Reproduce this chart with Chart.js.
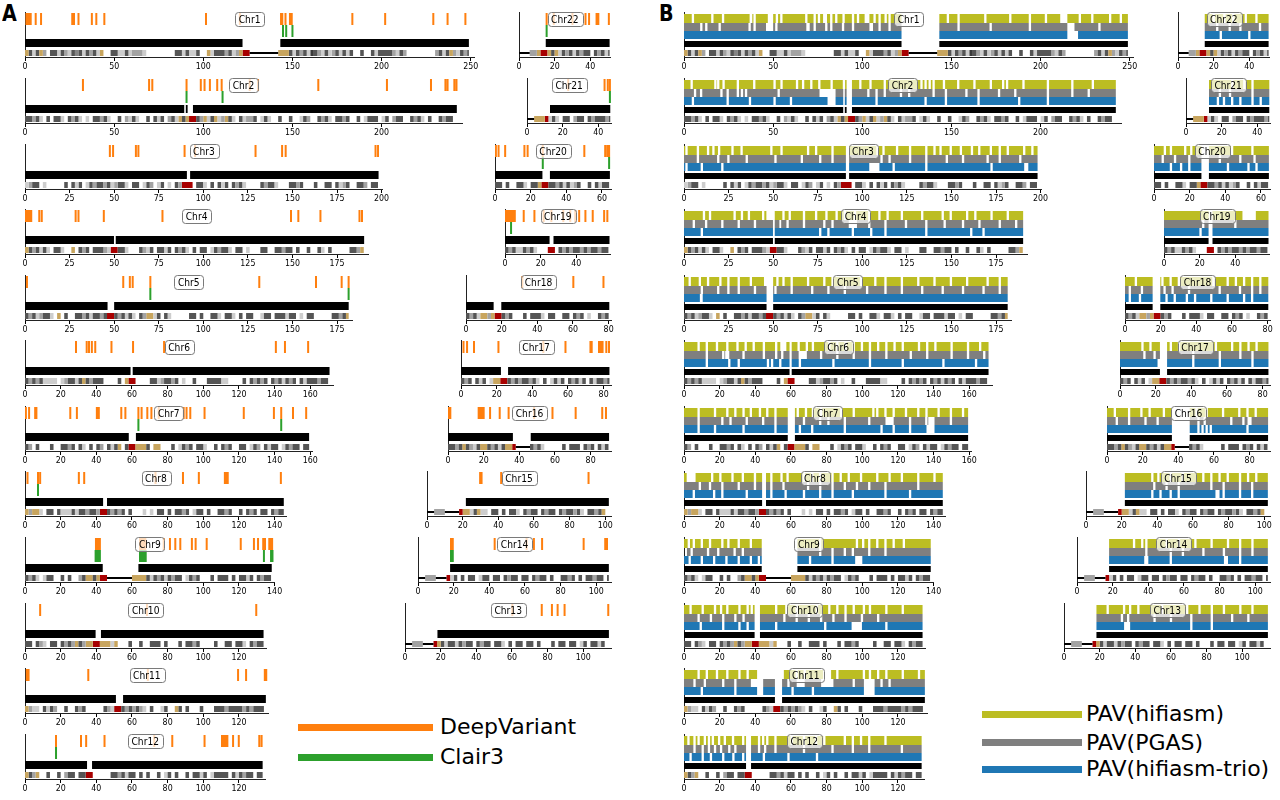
<!DOCTYPE html>
<html>
<head>
<meta charset="utf-8">
<script src="https://cdn.jsdelivr.net/npm/chart.js@4.4.1/dist/chart.umd.min.js"></script>
<style>
  html, body { margin: 0; padding: 0; background: #fff; }
  #page { position: relative; width: 1280px; height: 800px; overflow: hidden; font-family: 'DejaVu Sans', sans-serif; }
  .plot { position: absolute; }
  .panel-tag { position: absolute; font: bold 23px 'DejaVu Sans', sans-serif; line-height: 23px; transform: scaleX(0.83); transform-origin: left top; }
  .legend-line { position: absolute; height: 7px; }
  .legend-text { position: absolute; font: 22px 'DejaVu Sans', sans-serif; line-height: 26px; height: 26px; white-space: nowrap; color: #000; }
</style>
</head>
<body>
<div id="page">
  <div class="panel-tag" style="left:2px;top:2px">A</div>
  <div class="panel-tag" style="left:659px;top:2px">B</div>
</div>
<script>
// ---- data ----
const CHROMOSOMES = ['Chr1','Chr2','Chr3','Chr4','Chr5','Chr6','Chr7','Chr8','Chr9','Chr10','Chr11',
  'Chr12','Chr13','Chr14','Chr15','Chr16','Chr17','Chr18','Chr19','Chr20','Chr21','Chr22'];
const CHR_LEN = [248.96, 242.19, 198.3, 190.21, 181.54, 170.81, 159.35, 145.14, 138.39, 133.8, 135.09,
  133.28, 114.36, 107.04, 101.99, 90.34, 83.26, 80.37, 58.62, 64.44, 46.71, 50.82];
const TICK_STEP = [50, 50, 25, 25, 25, 20, 20, 20, 20, 20, 20, 20, 20, 20, 20, 20, 20, 20, 20, 20, 20, 20];

const LEFT_COLUMN = ['Chr1','Chr2','Chr3','Chr4','Chr5','Chr6','Chr7','Chr8','Chr9','Chr10','Chr11','Chr12'];
const RIGHT_COLUMN = ['Chr22','Chr21','Chr20','Chr19','Chr18','Chr17','Chr16','Chr15','Chr14','Chr13'];

// assembled contig spans (Mb)
const ASM_SEGMENTS = {
  Chr1: [[0,122],[143.2,248.96]], Chr2: [[0,89.3],[90.2,91.2],[94.2,242.19]], Chr3: [[0,90.8],[92.6,198.3]],
  Chr4: [[0,49.9],[50.9,190.21]], Chr5: [[0,46.3],[50,181.54]], Chr6: [[0,59.2],[60.4,170.81]],
  Chr7: [[0,58.2],[62.2,159.35]], Chr8: [[0,43.8],[46,145.14]], Chr9: [[0,43.6],[63.6,138.39]],
  Chr10: [[0,39.6],[42.6,133.8]], Chr11: [[0,51],[55,135.09]], Chr12: [[0,34.8],[37.6,133.28]],
  Chr13: [[18.2,114.36]], Chr14: [[18,107.04]], Chr15: [[21.8,101.99]], Chr16: [[0,36.4],[46.4,90.34]],
  Chr17: [[0,22.4],[26.4,83.26]], Chr18: [[0,15.5],[19.8,80.37]], Chr19: [[0,25],[27.2,58.62]],
  Chr20: [[0,26.6],[30.8,64.44]], Chr21: [[12.9,46.71]], Chr22: [[15,50.82]]
};

// cytoband stain per 2 Mb bin: . gneg, l/m/g/d/k grey levels, y gvar, r centromere, - gap
const IDEOGRAM_BIN_MB = 2;
const IDEOGRAM = {
  Chr1: 'ydldy'+'m.ddl'+'dmldg'+'dldmd'+'ly..d'+'dlldl'+'mmml.'+'.......'+'ddldlld.'+'.yldddmdlmy'+'rr'+'--------'+
        'yyyd'+'ldmdlkdmldlmdldld'+'..d.'+'.dld'+'dddmldm'+'........'+'mdldymldmd',
  Chr2: 'ddmdl'+'.d.dd'+'l.dmd'+'l.l.d'+'dmdl.'+'.d.ml'+'dl..d'+'.dld.'+'mdlyd'+'yrrdm'+'yldyl'+'mydl.'+'dlmmd'+
        '.ldl.'+'.d..d'+'..ldm'+'..dmd'+'l.ddm'+'d..d.'+'lddd.'+'ld.md'+'d..dm'+'dl.d.'+'.dmdd.',
  Chr3: 'lmdd.'+'l....'+'.d.dl'+'d.ldm'+'ddmdl'+'mddl.'+'dd.ld'+'m.ld.'+'l.dm'+'rrr'+'.dd'+'l.d.d'+'ld.dm'+'dl...'+
        '.dmdd'+'l...d'+'dmd..'+'.d..d'+'d.dlm'+'d..dd'+'m.dd',
  Chr4: 'ydmdl'+'dl.dd'+'l..y.'+'dmd.d'+'ddmlr'+'rddl.'+'..dml'+'d.ddl'+'d.dmd'+'l.d.d'+'d.ldm'+'ddl.d'+'d.l..'+
        '.dd..'+'ddmdd'+'.d..d'+'..dl.'+'d....'+'.ddmy',
  Chr5: 'dmdlm'+'ddl.y'+'.d..d'+'dmdld'+'dmdrr'+'dmdld'+'l.dmy'+'yld.d'+'l....'+'.dd.d'+'..ddl'+'.ddl.'+'d.dd.'+
        '.ldd.'+'dddld'+'d.l.d'+'d....'+'.ddmdy',
  Chr6: 'dmdmd'+'llll.'+'lmddl'+'dydmd'+'dd...'+'.d.yr'+'r....'+'ddlmd'+'dmd.l'+'..d..'+'.dddd'+'ll...'+'.d.dm'+
        'dmd.d'+'mdldm'+'d.dld'+'ddmdd.',
  Chr7: 'dm.d.'+'..d..'+'ddmd.'+'dl.d.'+'dm.dl'+'dy.d'+'rr'+'yyyd.'+'yy..'+'.d.ld'+'md.dd'+'l..d.'+'dmd..'+'dd.ld'+
        'm.dld'+'d.ldm'+'dd.dd',
  Chr8: 'ymyyl'+'.dd.d'+'llldl'+'ddmdd'+'mrr'+'dmdmd'+'.d...'+'l.l.d'+'d.d.d'+'dmd.l'+'dd.d.'+'.ddmd'+'..d.d'+
        'md.dd'+'.dmdd',
  Chr9: 'dmdl.'+'ldd..'+'d.d..'+'mdyydy'+'rr'+'-------'+'yyyy'+'dldmdl'+'dmdd.'+'ldmd.'+'..d.d'+'dd.d.'+'ddld.'+'dmdd',
  Chr10: 'dd.dm'+'l.dd.'+'dmdmy'+'dmyy'+'rr'+'yyyly'+'...d.'+'.d..d'+'dd.d.'+'..d.d'+'dmd..'+'..d..'+'dd.dd'+'l.dmdd.',
  Chr11: 'ymll.'+'dldm.'+'.d..d'+'md...'+'..dml'+'rr'+'dmdmd'+'ml.d.'+'.ld..'+'yd.d.'+'..d..'+'.dddm'+'ddddm'+'dmddd.',
  Chr12: 'ydmy.'+'.d..d'+'.mdd.'+'dd'+'rr'+'.....'+'ddmdl'+'dd.d.'+'d..d.'+'ld.d.'+'.d.dd'+'ld.ld'+'ddd.d'+'ldmdd.dd',
  Chr13: '--'+'mmm'+'---'+'r'+'ydlddl'+'dmdd.'+'dmdd.'+'ddl.d'+'.dd.d'+'d.d..'+'.d.dd'+'.dd.l'+'d.ddld.',
  Chr14: '--'+'mmm'+'---'+'r'+'ld.d.'+'dd.ld'+'d.dd.'+'dmdd.'+'dd.dm'+'dd.d.'+'.ddmd'+'.d.dd'+'mdd.d',
  Chr15: '--'+'mmm'+'----'+'r'+'yyldy'+'ll.dd'+'.d.dd'+'l.dmd'+'d.dmd'+'d.dmd'+'dmdl.'+'ddmdy.',
  Chr16: 'ddmdy'+'dmldy'+'ydmdl'+'dyy'+'r'+'----'+'dmdl.'+'....d'+'.ddd.'+'dmd.dld',
  Chr17: 'dmd.d'+'ld.ly'+'yrr'+'dmdmd'+'dmdl.'+'d.ldl'+'d.dmd'+'ld.dl'+'ddmd',
  Chr18: 'dmdly'+'ymy'+'rr'+'dmd..'+'.d.dd'+'dl.dd'+'..dd.'+'dmd.l'+'..dmd',
  Chr19: 'dmdll'+'dmdl.'+'..'+'rr'+'.'+'dmdmd'+'dmdmd'+'dmdd',
  Chr20: 'dd.d.'+'.ddl.'+'ddy'+'rr'+'ddmdl'+'dlmd.'+'.d.dl'+'dd',
  Chr21: '--'+'yyy'+'r'+'ldl.'+'dd.md'+'d.dmd'+'ddmd',
  Chr22: '---'+'mm'+'y'+'rr'+'y'+'dyldm'+'dldmd'+'d.dmd'+'ld'
};

// panel A: small-variant calls (Mb)
const DEEPVARIANT = {
  Chr1: [0.8, 1.6, 2.4, 3.2, 6, 9, 26.5, 27.5, 30, 37.5, 40, 44.5, 101.5, 120.5, 143.6, 144.3, 146.1, 148.6, 149.6, 183.6, 202, 229, 237, 247],
  Chr2: [32.5, 69.6, 71.4, 90.6, 98.6, 100.7, 103.7, 107.8, 110.3, 126, 130.7, 164.5, 203, 227.7, 235.8, 237, 240.8, 242],
  Chr3: [47.6, 49.4, 62.2, 63.6, 89.5, 95.4, 129.3, 144.2, 146.2, 196.6, 198],
  Chr4: [0.5, 1.5, 2.5, 3.5, 8, 9.4, 28.4, 30, 44.2, 77.1, 149.2, 153.3, 165.7, 187.6, 189],
  Chr5: [1.1, 55.1, 58.8, 60.4, 70.3, 131.4, 163.2, 177.6, 181.5],
  Chr6: [28.6, 34.6, 35.9, 37.5, 39.4, 48.5, 60.6, 78, 140.7, 145.8, 158.8],
  Chr7: [0.5, 2.3, 5.7, 6.4, 25.4, 29.1, 40.3, 41.4, 54, 56.3, 63.6, 65.4, 68.6, 70.9, 75, 89, 90.6, 92.7, 100.7, 122.7, 139.6, 143.7, 150.3, 157.7],
  Chr8: [1.4, 7.3, 8.5, 30.2, 33.2, 73.2, 88.6, 97.5, 112.1, 113, 113.7, 143.5],
  Chr9: [39.8, 40.6, 41.4, 42, 64.5, 65.5, 66.5, 67.5, 77.8, 81.3, 84.3, 87.1, 93.6, 95.7, 101.9, 121, 128.4, 130.7, 133.6, 134.6, 137, 137.8, 138.6],
  Chr10: [8.5, 68.4, 129.7],
  Chr11: [1, 2, 35.5, 68.9, 119.5, 124, 134.5, 135.3],
  Chr12: [17.4, 31.4, 34.3, 44.6, 72.5, 82.6, 100.7, 110.5, 111.5, 112.5, 113.5, 116.7, 119.9, 131.4, 132.7],
  Chr13: [60.2, 76.7, 82.4, 85.6, 89.5, 114],
  Chr14: [18.5, 19.5, 43, 60.9, 65, 69.6, 92.9, 105, 106],
  Chr15: [29.8, 30.6, 41.6, 90.6],
  Chr16: [0.5, 1.3, 17.2, 18.2, 19.2, 20, 23.6, 29, 34, 48.3, 58.6, 71.6, 86.5, 88.6],
  Chr17: [1.4, 3.4, 7.3, 21, 46.2, 58.6, 72.6, 73.3, 77.4, 78.4, 79.4, 81.5, 83],
  Chr18: [31.6, 60.2, 77.1],
  Chr19: [0.5, 1.5, 2.5, 3.5, 4.5, 5.5, 10.5, 16.5, 21.7, 26, 32.7, 36.6, 39.4, 41.6, 45.1, 49.2, 55.6, 57.4],
  Chr20: [0.5, 2, 5.7, 16.5, 18.3, 26.8, 50.1, 61.8, 63, 64],
  Chr21: [23.1, 43.5, 45.3, 46.5],
  Chr22: [15.5, 19.5, 30, 37.3, 39.3, 43.5, 44.5, 50.4]
};
const CLAIR3 = {
  Chr1: [144.7, 146.5, 150], Chr2: [90.6, 110.8], Chr5: [70.3, 181.5], Chr7: [63.6, 143.7], Chr8: [7.3],
  Chr9: [39.6, 40.4, 41.2, 42, 64.5, 65.3, 66.1, 66.9, 67.7, 134, 138, 138.8], Chr12: [17.4],
  Chr14: [18.5, 19.5], Chr19: [3.4], Chr20: [26.8, 64], Chr21: [46.5], Chr22: [15.5]
};

// panel B: breaks in PAV coverage (Mb; single value = narrow break, pair = span)
const PAV_HIFIASM_GAPS = {
  Chr1: [5, 15.9, 21.9, [36.8,38.3], 39.6, [47,50], 52.1, 54.6, 68.6, 73.3, 75.7, [78,80.2], 82.6, 85.4, 89.5, 94.8, 97.6, [101.3,104], 106.9, 109.7, 113.1, 115.3, 148, 154, 169, 183, 194, 203, [211,215], 222, 229, 239, 245],
  Chr2: [4.3, 17.6, 19.2, 22.2, 30.2, 39.4, 50.8, 54.7, 63.4, 66.8, 71.4, 75.9, 82.8, 89.7, 98.9, 104.6, 112.6, 133.2, 135.5, 137.8, 140, 145.8, 153.8, 162.9, 172.1, 179, 181.2, 190.4, 204.1, 217.8, 229.3],
  Chr3: [1.4, 7.8, 13.5, 16.5, 19.7, 27.2, 32.3, 49, 54.7, 69.6, 74.1, 83.3, 108.5, 111.9, 119.5, 126.8, 135.9, 140.5, 143.9, 149.6, 155.3, 161.5, 165.6, 172.1, 177.1, 181.6, 190.8, 195.4],
  Chr4: [11.2, 14.6, 28.4, 32.5, 36.4, 44.4, [46.2,49.9], 55.8, 59.3, 67.3, 74.1, 79.9, 85.6, 90.2, 95.9, 103.9, 109.6, 114.2, 122.2, 133.6, 145.1, 149.6, 158.8, 163.4, 172.5, 181.6],
  Chr5: [3.2, 8.9, 13.5, 20.4, 24.9, 30.7, 37.5, 45.5, 52.4, 55.8, 60.4, 69.6, 78.7, 83.3, 99.3, 107.3, 113, 122.2, 131.4, 140.5, 149.7, 158.8, 170.3, 177.1],
  Chr6: [8.2, 12.8, 18.5, 24.3, 30, 34.6, 39.1, 44.8, 51.7, [54,57.4], 64.3, 68.9, 72.3, 81.5, 86, 90.6, 95.2, 99.8, 104.3, 108.9, 113.5, 118.1, 122.7, 131.8, 136.4, 141, 150.1, 159.3, 166.1],
  Chr7: [8.2, 17.4, 24.3, 28.8, 33.4, 37.5, 42.6, 46.7, 51.3, 63.8, 68.4, 72.3, 76.9, 88.1, 95.2, 106.2, 108.4, 113, 117.6, 124.5, 131.4, 136, 142.8, 149.7, 156.5],
  Chr8: [[1.5,6.5], 15.8, 20.4, 27.2, 33, 39.8, 49, 54.7, 58.1, 67.3, 71.9, 76.4, 83.3, 87.9, 92.4, 99.3, 108.4, 115.3, 122.2, 131.4, 140.5],
  Chr9: [2.7, 5.5, 10, 14.6, 21.5, 24.9, 30.7, 37.5, 76.4, 97, 100.5, 103.9, 108.4, 113, 117.6, 123.3],
  Chr10: [3.7, 10.5, 17.4, 20.8, 24.3, 31.1, 35.7, 38, 51.7, 57.4, 63.2, 74.6, 81.5, 86, 90.6, 95.2, 100.9, 104.3, 113.5, 122.7],
  Chr11: [8.2, 12.8, 18.5, 24.3, 31.1, 35.7, [41,51], [55,56], 63.2, 67.7, [78,82.5], 86, 100.9, 104.3, 108.9, 113.5, 122.7, 131.8],
  Chr12: [2.5, 5.9, 8.2, 11.7, 14, 16.2, 19.7, 22.9, 27.5, 33.2, 42.1, 44.4, 46.7, 51.3, 60.4, 67.3, 74.1, 78.7, 90.2, 94.7, 99.3, 103.9, 113],
  Chr13: [24.5, 33.7, 37.1, 41.7, 55, 69.1, 76, 82.9, 89.7, 98.9, 105.7],
  Chr14: [32, 36.6, 38.9, 50.3, 57.2, 66.4, 75.5, 84.7, 91.5, 98.4],
  Chr15: [37.2, 40.6, 47.5, 54.3, 65.8, 70.3, 74.9, 79.5, 86.4, 90.9, 95.5],
  Chr16: [4.4, 12.4, 19.3, 23.9, 31.9, 50.2, 55.9, 65.1, 74.2, 78.8, 83.4],
  Chr17: [12.6, 17.1, 28.5, 33.1, 53.8, 62.9, 67.5, 72.1, 76.6],
  Chr18: [6.1, 21, 25.6, 30.2, 49.6, 57.6, 62.2, 66.8, 71.3, 75.9],
  Chr19: [[44,51.5]],
  Chr20: [6.1, 9.5, 17.5, 20.9, 43.8, 55.2],
  Chr21: [26, 32.7, 37.3],
  Chr22: [20, 26, 31, 38, 44]
};
const PAV_PGAS_GAPS = {
  Chr1: [9.7, 12.5, 20, 36.8, 39.6, [46,50], 51.8, [68.6,70.5], 73.3, 79.8, 82.6, 89.2, 94.8, [104,106], 109.7, 115.3, 154, 172, 194, [215,219], 233],
  Chr2: [6.2, 9.6, 21, 24.5, 30.2, 32.5, 34.8, 53.1, [76,85], 103.4, 108, 112.6, 121.7, 126.3, 140, 146.9, 158.4, 165.2, 176.7, 185.8, 204.1, 217.8, 227],
  Chr3: [7.8, 19.2, 24.9, 35.2, 51.3, 66.1, 76.4, 83.3, 110.8, 115.3, 126.8, 135.9, 147.4, 156.5, 170.3, 177.1, 188.6],
  Chr4: [5.5, 12.4, 21.5, 30.7, 39.8, [53.5,54.5], 58.1, 67.3, 78.7, 83.3, [92.4,97], 103.9, 113, 124.5, 135.9, 146.2, 156.5, 165.7, 177.1, 186.3],
  Chr5: [10, 19.2, 24.9, 30.7, 39.8, 51.3, 60.4, 71.9, 81, 90.2, 102.7, 113, 122.2, 133.6, 145.1, 156.5, 168, 177.1],
  Chr6: [12.8, 22, [23.1,25.4], 33.4, 44.8, 51.7, 55.1, [64.3,68.9], 76.9, 86, 95.2, 104.3, 113.5, 127.2, 136.4, 150.1, 159.3, 168.4],
  Chr7: [8.2, 21.5, 26.1, 35.2, 44.4, 51.3, 67.3, 76.4, 81, 90.2, 103.9, [113,117.6], 126.8, 135.9, [137,140.5], 149.7],
  Chr8: [8.9, 14.6, 21.5, 30.7, 39.8, 49, 55.8, 69.6, 76.4, 83.3, 90.2, 97, 103.9, 113, 131.4],
  Chr9: [1, 4.3, 13.5, 19.2, 28.4, 33, 76.4, 83.3, 90.2, 94.7, 103.9, 113],
  Chr10: [8.2, 15.1, 22, 28.8, 33.4, 56.3, 63.2, 70, 76.9, 83.8, 90.6, 99.8, 108.9],
  Chr11: [5.9, 11.7, 22, 28.8, [37.5,44.4], 58.6, [63.2,67.7], [76.9,83.8], 95.2, [100.9,106.9], 110.8, 115.3],
  Chr12: [5.9, 10.5, 14, 17.4, 20.8, 25.4, 28.8, 42.1, 45.5, 51.3, 67.3, 83.3, 94.7, 103.9, 122.2],
  Chr13: [32.5, 36, 50.8, 60, 71.4, 82.9, 94.3, 103.4],
  Chr14: [38.9, 52.6, 59.4, 70.9, 82.4, 91.5, 98.4],
  Chr15: [38.3, 45.2, 52, 70.3, 77.2, 86.4, 93.2],
  Chr16: [5.5, 12.4, 21.6, 28.4, 51.3, 54.8, 69.7, 76.5, [78.8,81.1]],
  Chr17: [13.7, 19.4, 41.1, 56, 67.5, 74.3],
  Chr18: [2.7, 9.5, 22.2, 26.7, 35.9, 53.1, 64.5, 71.3, 75.9],
  Chr19: [22, 40],
  Chr20: [4.9, 11.8, 19.8, 36.9, 48.4, 56.4],
  Chr21: [19, 24.7, 37.3],
  Chr22: [22, 29, 35, 46]
};
const PAV_TRIO_GAPS = {
  Chr1: [[215,221]],
  Chr2: [5, 24.5, 37, 50.8, 60, [80.5,85], 108, 135.5, 146.9, 165.2, 188, 204.1],
  Chr3: [1.4, 10, 21.5, [103.9,109.6], 117.6, 135.9, 172.5, [190.8,193.1]],
  Chr4: [10, 76.4, 81, 94.7, 105, 113, 135.9, 161.1, 168],
  Chr5: [[8.9,10.5]],
  Chr6: [12.8, 25.4, 30.7, 47.1, 49.4, 54, 65, 83.8, 104.3, 122.7, 145.5, 163.8],
  Chr7: [8.2, 17.4, 33.4, 51.3, 65, 71.9, 90.2, 110.8, 117.6, 126.8, [136,140.5]],
  Chr8: [5.5, 16.9, 21.5, 35.2, 49, 57, 67.3, 76.4, 83.3, 94.7, 113, 126.8],
  Chr9: [3.2, 10, 16.9, 23.8, 30.7, 37.5, 42, 70.7, 83.3, [96,100]],
  Chr10: [9.4, 22, 31.1, 35.7, 51.7, 79.2, [94,99.8], 113.5],
  Chr11: [10, 28.8, [41,44.4], 60.9, 72.3, [100.9,106.9]],
  Chr12: [3.7, 10.5, 15.1, 22, 27.7, 33.2, 44.8, 58.6, 74.6],
  Chr13: [[33.7,37.1], 71.4, 82.9],
  Chr14: [[37.7,40], 52.6, [82.4,84.7], 91.5],
  Chr15: [37.2, 41.8, 47.5, 52, [72.6,74.9], 77.2, 86.4, 93.2],
  Chr16: [51.3, 53.6, 55.9, 58.2, 78.8],
  Chr17: [21.7, 41.1, 56, 74.3],
  Chr18: [2.7, 8.4, 23.3, 27.9, 34.7, 39.3, 48.4, 57.6, 66.8, 71.3],
  Chr19: [20.5],
  Chr20: [9.5, 15.2, 19.8, 41.5, 53, 57.5],
  Chr21: [17.9, 21.3, 25.9, 30.5, 37.3, 41.9],
  Chr22: [24, 40]
};

const LEGEND_A = ['DeepVariant', 'Clair3'];
const LEGEND_B = ['PAV(hifiasm)', 'PAV(PGAS)', 'PAV(hifiasm-trio)'];

// ---- layout / style ----
const PX_PER_MB = 1.783;
const AXIS_STRETCH = 1.012;
const ROW_Y0 = 57.3, ROW_STEP = 65.6;
const PANEL_X = { A: { left: 25, right: 611 }, B: { left: 684, right: 1270 } };
const PAD_L = 10, PAD_R = 14, PAD_T = 4, PLOT_H = 45, AXIS_H = 16;
const NARROW_GAP = 1.3;
const TEXT_SQUEEZE = 0.83;

const COLORS = {
  deepvariant: '#ff7f0e', clair3: '#2ca02c',
  hifiasm: '#bcbd22', pgas: '#7f7f7f', trio: '#1f77b4', asm: '#000000'
};
const SHADES = { l: '#cdcdcd', m: '#a3a3a3', g: '#858585', d: '#555555', k: '#3a3a3a', y: '#c8a55e', r: '#a80000' };

const page = document.getElementById('page');
Chart.defaults.font.family = "'DejaVu Sans', sans-serif";

function addH(arr, s, e, y) {
  arr.push({ x: s, y: y }, { x: e, y: y }, { x: e, y: null });
}
function addV(arr, x, y0, y1) {
  arr.push({ x: x, y: y0 }, { x: x, y: y1 }, { x: x, y: null });
}
function lineSet(data, color, width) {
  return {
    data: data, borderColor: color, borderWidth: width, pointRadius: 0, pointHitRadius: 0,
    fill: false, spanGaps: false, tension: 0, borderCapStyle: 'butt'
  };
}

function subtractGaps(segs, gaps) {
  const cuts = (gaps || []).map(g => Array.isArray(g) ? g : [g - NARROW_GAP / 2, g + NARROW_GAP / 2])
    .sort((a, b) => a[0] - b[0]);
  const out = [];
  segs.forEach(([a, b]) => {
    let cur = a;
    cuts.forEach(([s, e]) => {
      if (e <= cur || s >= b) return;
      if (s > cur) out.push([cur, s]);
      cur = Math.max(cur, e);
    });
    if (cur < b) out.push([cur, b]);
  });
  return out;
}

function ideogramSets(name, len) {
  const str = IDEOGRAM[name];
  const byShade = {};
  const stalk = [];
  let i = 0;
  while (i < str.length) {
    let j = i;
    while (j < str.length && str[j] === str[i]) j++;
    const s = i * IDEOGRAM_BIN_MB, e = Math.min(j * IDEOGRAM_BIN_MB, len);
    const c = str[i];
    if (s < len) {
      if (c === '-') addH(stalk, s, e, 4);
      else if (SHADES[c]) addH(byShade[c] = byShade[c] || [], s, e, 4);
    }
    i = j;
  }
  const sets = [lineSet(stalk, '#000', 2)];
  Object.keys(byShade).forEach(c => sets.push(lineSet(byShade[c], SHADES[c], 6)));
  return sets;
}

function segSet(segs, y, color, width) {
  const d = [];
  segs.forEach(([s, e]) => addH(d, s, e, y));
  return lineSet(d, color, width);
}

function panelASets(name, len) {
  const dv = [], cl = [];
  (DEEPVARIANT[name] || []).forEach(p => addV(dv, p, 32, 44));
  (CLAIR3[name] || []).forEach(p => addV(cl, p, 20, 32));
  return [
    lineSet(dv, COLORS.deepvariant, 2),
    lineSet(cl, COLORS.clair3, 2),
    segSet(ASM_SEGMENTS[name], 14, COLORS.asm, 8)
  ].concat(ideogramSets(name, len));
}

function panelBSets(name, len) {
  const asm = ASM_SEGMENTS[name];
  return [
    segSet(subtractGaps(asm, PAV_HIFIASM_GAPS[name]), 38.5, COLORS.hifiasm, 9),
    segSet(subtractGaps(asm, PAV_PGAS_GAPS[name]), 30, COLORS.pgas, 8),
    segSet(subtractGaps(asm, PAV_TRIO_GAPS[name]), 22, COLORS.trio, 8),
    segSet(asm, 13, COLORS.asm, 6)
  ].concat(ideogramSets(name, len));
}

// chromosome name box and squeezed tick labels
const chrText = {
  id: 'chrText',
  afterDraw(chart, args, opts) {
    const { ctx, chartArea } = chart;
    const xs = chart.scales.x;
    ctx.save();
    ctx.fillStyle = '#000';
    ctx.font = "9.5px 'DejaVu Sans'";
    ctx.textAlign = 'center';
    ctx.textBaseline = 'top';
    xs.ticks.forEach(t => {
      ctx.save();
      ctx.translate(xs.getPixelForValue(t.value), chartArea.bottom + 5);
      ctx.scale(TEXT_SQUEEZE, 1);
      ctx.fillText(String(t.value), 0, 0);
      ctx.restore();
    });

    const cx = (chartArea.left + chartArea.right) / 2;
    const cy = chart.scales.y.getPixelForValue(38);
    ctx.font = "11px 'DejaVu Sans'";
    const w = ctx.measureText(opts.text).width * TEXT_SQUEEZE + 7, h = 14;
    ctx.beginPath();
    ctx.roundRect(Math.round(cx - w / 2) + 0.5, Math.round(cy - h / 2) + 0.5, Math.round(w), h, 3);
    ctx.fillStyle = 'rgba(255,255,255,0.72)';
    ctx.fill();
    ctx.strokeStyle = '#7a7a7a';
    ctx.lineWidth = 1;
    ctx.stroke();
    ctx.fillStyle = '#000';
    ctx.textBaseline = 'middle';
    ctx.translate(cx, cy + 1);
    ctx.scale(TEXT_SQUEEZE, 1);
    ctx.fillText(opts.text, 0, 0);
    ctx.restore();
  }
};

function makeChart(panel, name, side, row) {
  const idx = CHROMOSOMES.indexOf(name);
  const len = CHR_LEN[idx];
  const max = len * AXIS_STRETCH;
  const step = TICK_STEP[idx];
  const plotW = max * PX_PER_MB;
  const x0 = side === 'left' ? PANEL_X[panel].left : PANEL_X[panel].right - plotW;
  const axisY = ROW_Y0 + row * ROW_STEP;

  const w = Math.ceil(PAD_L + plotW + PAD_R);
  const h = PAD_T + PLOT_H + AXIS_H;
  const wrap = document.createElement('div');
  wrap.className = 'plot';
  const canvas = document.createElement('canvas');
  canvas.width = w; canvas.height = h;
  canvas.style.width = w + 'px'; canvas.style.height = h + 'px';
  wrap.appendChild(canvas);
  page.appendChild(wrap);

  const chart = new Chart(canvas, {
    type: 'line',
    data: { datasets: panel === 'A' ? panelASets(name, len) : panelBSets(name, len) },
    options: {
      responsive: false,
      animation: false,
      devicePixelRatio: 1,
      events: [],
      layout: { padding: { left: PAD_L, right: w - PAD_L - plotW, top: PAD_T, bottom: 0 } },
      plugins: { legend: { display: false }, tooltip: { enabled: false }, chrText: { text: name } },
      scales: {
        x: {
          type: 'linear', min: 0, max: max,
          afterBuildTicks: s => {
            const t = [];
            for (let v = 0; v <= s.max + 1e-9; v += step) t.push({ value: v });
            s.ticks = t;
          },
          afterFit: s => { s.height = AXIS_H; },
          grid: { display: true, drawOnChartArea: false, drawTicks: true, tickLength: 4, color: '#000', lineWidth: 1 },
          border: { display: true, color: '#222', width: 1 },
          ticks: { display: false }
        },
        y: {
          type: 'linear', min: 0, max: PLOT_H,
          afterFit: s => { s.width = 0; },
          grid: { display: false, drawTicks: false },
          border: { display: true, color: '#222', width: 1 },
          ticks: { display: false }
        }
      }
    },
    plugins: [chrText]
  });
  const a = chart.chartArea;
  wrap.style.left = Math.round(x0 - a.left) + 'px';
  wrap.style.top = Math.round(axisY - a.bottom) + 'px';
}

['A', 'B'].forEach(panel => {
  LEFT_COLUMN.forEach((name, row) => makeChart(panel, name, 'left', row));
  RIGHT_COLUMN.forEach((name, row) => makeChart(panel, name, 'right', row));
});

function legendEntry(label, color, x, len, y, textX) {
  const line = document.createElement('div');
  line.className = 'legend-line';
  line.style.cssText = `left:${x}px;top:${Math.round(y - 3.5)}px;width:${len}px;background:${color}`;
  const text = document.createElement('div');
  text.className = 'legend-text';
  text.style.cssText = `left:${textX}px;top:${Math.round(y - 13)}px`;
  text.textContent = label;
  page.appendChild(line);
  page.appendChild(text);
}
const colorsA = [COLORS.deepvariant, COLORS.clair3];
const colorsB = [COLORS.hifiasm, COLORS.pgas, COLORS.trio];
LEGEND_A.forEach((l, i) => legendEntry(l, colorsA[i], 298, 135, 727 + i * 30, 440));
LEGEND_B.forEach((l, i) => legendEntry(l, colorsB[i], 982, 100, [714, 742.5, 769][i], 1086));
</script>
</body>
</html>
